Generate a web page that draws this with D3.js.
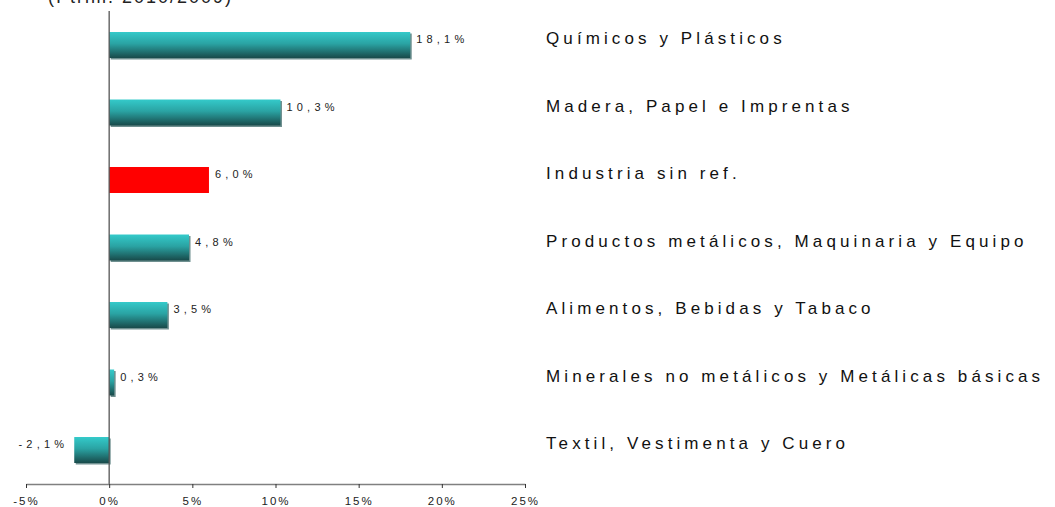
<!DOCTYPE html>
<html><head><meta charset="utf-8">
<script src="https://cdn.jsdelivr.net/npm/d3@7"></script>
<style>
body{margin:0;background:#fff;}
svg{display:block;font-family:"Liberation Sans",Arial,sans-serif;}
</style></head>
<body>
<svg id="chart" width="1055" height="507"></svg>
<script>
const categories = ["Químicos y Plásticos","Madera, Papel e Imprentas","Industria sin ref.","Productos metálicos, Maquinaria y Equipo","Alimentos, Bebidas y Tabaco","Minerales no metálicos y Metálicas básicas","Textil, Vestimenta y Cuero"];
const values = [18.1, 10.3, 6.0, 4.8, 3.5, 0.3, -2.1];
const valueLabels = ["18,1%","10,3%","6,0%","4,8%","3,5%","0,3%","-2,1%"];
const highlight = ["Industria sin ref."];
const tickValues = [-5, 0, 5, 10, 15, 20, 25];
const title = "(I trim. 2010/2009)";

const svg = d3.select("#chart");
const x = d3.scaleLinear().domain([-5, 25]).range([26, 525]);
const y = d3.scaleBand().domain(categories).range([11.25, 483.75]).paddingInner(0.615).paddingOuter(0.3075);

const defs = svg.append("defs");
const g = defs.append("linearGradient").attr("id","tealGrad").attr("x1",0).attr("y1",0).attr("x2",0).attr("y2",1);
g.append("stop").attr("offset","0%").attr("stop-color","#34caca");
g.append("stop").attr("offset","45%").attr("stop-color","#2aa3a3");
g.append("stop").attr("offset","100%").attr("stop-color","#184a4a");

// title (partially cut off, as in the reference)
svg.append("text").attr("x",48).attr("y",3).attr("font-size",18).attr("letter-spacing",2).attr("fill","#222").text(title);

// shadows
svg.selectAll("rect.shadow").data(values.map((v,i)=>({v,c:categories[i]})).filter(d=>!highlight.includes(d.c)))
  .enter().append("rect").attr("class","shadow")
  .attr("x", d => Math.min(x(0), x(d.v)) + 1.5)
  .attr("y", d => y(d.c) + 1.5)
  .attr("width", d => Math.abs(x(d.v) - x(0)))
  .attr("height", y.bandwidth())
  .attr("fill", "#6f9090");

// bars
svg.selectAll("rect.bar").data(values.map((v,i)=>({v,c:categories[i]})))
  .enter().append("rect").attr("class","bar")
  .attr("x", d => Math.min(x(0), x(d.v)))
  .attr("y", d => y(d.c))
  .attr("width", d => Math.abs(x(d.v) - x(0)))
  .attr("height", y.bandwidth())
  .attr("fill", d => highlight.includes(d.c) ? "#ff0000" : "url(#tealGrad)");

// value labels
svg.selectAll("text.val").data(values.map((v,i)=>({v,c:categories[i],l:valueLabels[i]})))
  .enter().append("text").attr("class","val")
  .attr("x", d => d.v >= 0 ? x(d.v) + 6 : x(d.v) - 6)
  .attr("y", d => y(d.c) + y.bandwidth()/2 - 2)
  .attr("text-anchor", d => d.v >= 0 ? "start" : "end")
  .attr("font-size", 11).attr("letter-spacing", 4.2).attr("fill","#222")
  .text(d => d.l);

// category labels
svg.selectAll("text.cat").data(categories)
  .enter().append("text").attr("class","cat")
  .attr("x", 546)
  .attr("y", d => y(d) + y.bandwidth()/2 - 1)
  .attr("font-size", 17).attr("letter-spacing", 4.1).attr("fill","#111")
  .text(d => d);

// zero line
svg.append("line").attr("x1", x(0)).attr("x2", x(0)).attr("y1", 11).attr("y2", 484)
  .attr("stroke","#555").attr("stroke-width",1.3);

// x axis
const axis = d3.axisBottom(x).tickValues(tickValues).tickSize(4).tickSizeOuter(0).tickFormat(d => d + "%");
const ax = svg.append("g").attr("transform","translate(0,484)").call(axis);
ax.select(".domain").attr("stroke","#808080").attr("stroke-width",1.5);
ax.selectAll(".tick line").attr("stroke","#333");
ax.selectAll(".tick text").attr("font-size",11.5).attr("letter-spacing",2).attr("fill","#222")
  .attr("font-family","\"Liberation Sans\",Arial,sans-serif").attr("dy","1.2em");
</script>
</body></html>
